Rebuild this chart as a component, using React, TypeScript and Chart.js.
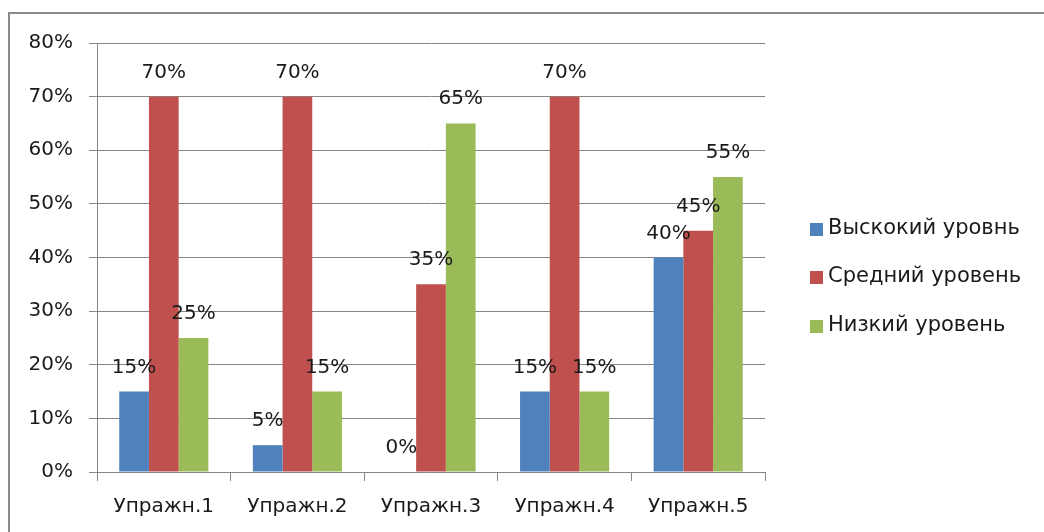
import React, { useEffect, useRef } from "react";
import { Chart, registerables } from "chart.js";

Chart.register(...registerables);

const categories = ["Упражн.1", "Упражн.2", "Упражн.3", "Упражн.4", "Упражн.5"];
const highLevel = [15, 5, 0, 15, 40];
const midLevel = [70, 70, 35, 70, 45];
const lowLevel = [25, 15, 65, 15, 55];
const seriesNames = ["Выскокий уровнь", "Средний уровень", "Низкий уровень"];
const seriesColors = ["#4F81BD", "#C0504D", "#9BBB59"];
const yTicksMax = 80;
const yTicksStep = 10;

const FONT = "'DejaVu Sans', sans-serif";
const FS = 20;

const labelsPlugin = {
  id: "barLabels",
  afterDatasetsDraw(chart: any) {
    const ctx = chart.ctx;
    ctx.save();
    ctx.font = `${FS}px ${FONT}`;
    ctx.fillStyle = "#1a1a1a";
    ctx.textAlign = "center";
    ctx.textBaseline = "alphabetic";
    chart.data.datasets.forEach((ds: any, i: number) => {
      const meta = chart.getDatasetMeta(i);
      meta.data.forEach((el: any, j: number) => {
        ctx.fillText(ds.data[j] + "%", el.x, el.y - 19);
      });
    });
    ctx.restore();
  },
};

const legendPlugin = {
  id: "customLegend",
  afterDraw(chart: any) {
    const ctx = chart.ctx;
    ctx.save();
    ctx.font = `21px ${FONT}`;
    ctx.textBaseline = "middle";
    ctx.textAlign = "left";
    const ys = [229, 277, 326];
    chart.data.datasets.forEach((ds: any, i: number) => {
      ctx.fillStyle = ds.backgroundColor;
      ctx.fillRect(810, ys[i] - 6, 13, 13);
      ctx.fillStyle = "#1a1a1a";
      ctx.fillText(ds.label, 828, ys[i]);
    });
    ctx.restore();
  },
};

export default function App() {
  const ref = useRef<HTMLCanvasElement>(null);
  useEffect(() => {
    const chart = new Chart(ref.current!, {
      type: "bar",
      data: {
        labels: categories,
        datasets: [highLevel, midLevel, lowLevel].map((d, i) => ({
          label: seriesNames[i],
          data: d,
          backgroundColor: seriesColors[i],
          categoryPercentage: 0.667,
          barPercentage: 1,
        })),
      },
      options: {
        animation: false,
        responsive: false,
        maintainAspectRatio: false,
        layout: { padding: { top: 43, right: 279, bottom: 0, left: 0 } },
        plugins: { legend: { display: false }, tooltip: { enabled: false } },
        scales: {
          x: {
            grid: {
              display: true,
              drawOnChartArea: false,
              drawTicks: true,
              tickLength: 9,
              color: "#868686",
              offset: true,
            },
            border: { display: true, color: "#868686" },
            ticks: { font: { family: FONT, size: FS }, color: "#1a1a1a", padding: 14 },
            afterFit(s: any) {
              s.height = 60;
            },
          },
          y: {
            min: 0,
            max: yTicksMax,
            ticks: {
              stepSize: yTicksStep,
              callback: (v: any) => v + "%",
              font: { family: FONT, size: FS },
              color: "#1a1a1a",
              padding: 16,
            },
            grid: { color: "#868686", tickLength: 8, drawTicks: true },
            border: { display: true, color: "#868686" },
            afterFit(s: any) {
              s.width = 97;
            },
          },
        },
      },
      plugins: [labelsPlugin, legendPlugin],
    });
    return () => chart.destroy();
  }, []);
  return (
    <div style={{ position: "absolute", left: 0, top: 0, width: 1044, height: 532, background: "#fff" }}>
      <canvas ref={ref} width={1044} height={532} style={{ position: "absolute", left: 0, top: 0 }} />
      <div
        style={{
          position: "absolute",
          left: 8,
          top: 12,
          width: 1036,
          height: 520,
          borderTop: "2px solid #8a8a8a",
          borderLeft: "2px solid #8a8a8a",
          boxSizing: "border-box",
          pointerEvents: "none",
        }}
      />
    </div>
  );
}
